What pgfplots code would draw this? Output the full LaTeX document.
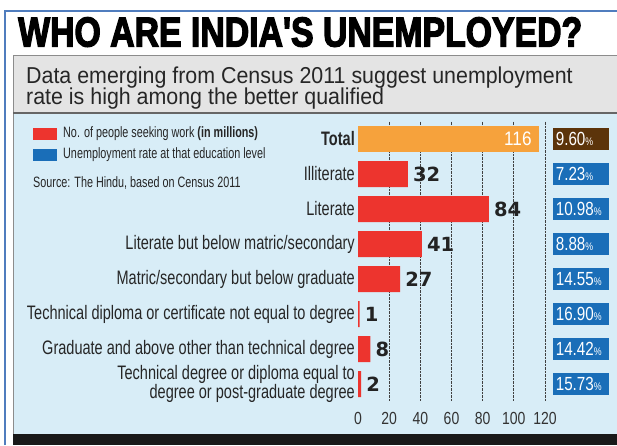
\documentclass[border=0pt]{standalone}
\usepackage{pgfplots}
\pgfplotsset{compat=1.18}
\usepackage{pgfplotstable}
\usepackage{fontspec}
\setmainfont{Liberation Sans}
\newfontfamily\cond[FakeStretch=0.745]{Liberation Sans}
\newfontfamily\legfam[FakeStretch=0.72]{Liberation Sans}
\newfontfamily\narrow[FakeStretch=0.8]{Liberation Sans}
\newfontfamily\subfont[FakeStretch=0.93]{Liberation Sans}
\newfontfamily\totfam[FakeStretch=0.88]{Liberation Sans}
\newfontfamily\valfam{DejaVu Sans}
\newfontface\titlefont[FakeBold=3.5]{Liberation Sans Bold}
\newcommand\labelfont{\cond\fontsize{19.5}{18}\selectfont}
\newcommand\legfont{\legfam\fontsize{15}{15}\selectfont}
\newcommand\tickfont{\narrow\fontsize{17.5}{18}\selectfont}
\newcommand\pctfont{\narrow\fontsize{19}{19}\selectfont}
\newcommand\valfont{\valfam\bfseries\fontsize{19.5}{19}\selectfont}

\definecolor{barred}{RGB}{237,52,46}
\definecolor{barorange}{RGB}{246,162,60}
\definecolor{pctblue}{RGB}{26,110,184}
\definecolor{pctbrown}{RGB}{92,52,10}
\definecolor{panelblue}{RGB}{216,237,247}
\definecolor{subgray}{RGB}{228,228,228}
\definecolor{frameblue}{RGB}{80,125,190}
\definecolor{valdark}{RGB}{35,35,35}

% people seeking work, millions
\pgfplotstableread{
y val
1 32
2 84
3 41
4 27
5 1
6 8
7 2
}\groups
\pgfplotstableread{
y val
0 116
}\total
% unemployment rate, percent
\pgfplotstableread{
y pct
1 7.23
2 10.98
3 8.88
4 14.55
5 16.90
6 14.42
7 15.73
}\rates
\pgfplotstableread{
y pct
0 9.60
}\totalrate

\begin{document}
\begin{tikzpicture}
\useasboundingbox (0pt,0pt) rectangle (617pt,-445pt);
\fill[white] (0pt,0pt) rectangle (617pt,-445pt);
\fill[subgray] (13pt,-55pt) rectangle (617pt,-113pt);
\fill[panelblue] (13pt,-113pt) rectangle (617pt,-434pt);
\draw[black!45, line width=1pt] (617pt,-55pt) -- (13pt,-55pt) -- (13pt,-434pt);
\draw[black!60, line width=1.5pt] (13pt,-113pt) -- (617pt,-113pt);
\fill[black!90] (13pt,-434pt) rectangle (617pt,-445pt);
\draw[frameblue, line width=1.5pt] (5pt,-445pt) -- (5pt,-11pt) -- (617pt,-11pt);

\node[anchor=south west, inner sep=0pt] at (18pt,-47pt)
  {\resizebox{564pt}{29pt}{\titlefont WHO ARE INDIA'S UNEMPLOYED?}};
\node[anchor=base west, inner sep=0pt, text=black!85] at (26pt,-83pt)
  {\subfont\fontsize{23}{22}\selectfont Data emerging from Census 2011 suggest unemployment};
\node[anchor=base west, inner sep=0pt, text=black!85] at (26pt,-104pt)
  {\subfont\fontsize{23}{22}\selectfont rate is high among the better qualified};

\fill[barred] (33pt,-128pt) rectangle (57pt,-140pt);
\fill[pctblue] (33pt,-149pt) rectangle (57pt,-161pt);
\node[anchor=west, inner sep=0pt, text=black!85] at (63pt,-134pt)
  {\legfont No. of people seeking work {\bfseries (in millions)}};
\node[anchor=west, inner sep=0pt, text=black!85] at (63pt,-155pt)
  {\legfont Unemployment rate at that education level};
\node[anchor=west, inner sep=0pt, text=black!85] at (33pt,-183pt)
  {\legfont Source: The Hindu, based on Census 2011};

\begin{axis}[
  at={(358pt,-121.5pt)}, anchor=north west,
  scale only axis, width=187pt, height=280pt,
  xmin=0, xmax=120, ymin=-0.5, ymax=7.5, y dir=reverse,
  clip=false,
  axis line style={draw=none},
  major tick length=0pt,
  xtick={20,40,...,120}, xticklabels={20,40,60,80,100,120},
  extra x ticks={0}, extra x tick labels={0}, extra x tick style={grid=none},
  xmajorgrids, major grid style={densely dotted, black!75, line width=0.8pt},
  xticklabel style={font=\tickfont, text=black!80, inner sep=0pt, yshift=-11pt},
  ytick={0,...,7},
  yticklabels={{\bfseries Total}, Illiterate, Literate,
    Literate but below matric/secondary,
    Matric/secondary but below graduate,
    Technical diploma or certificate not equal to degree,
    Graduate and above other than technical degree,
    {Technical degree or diploma equal to\\degree or post-graduate degree}},
  yticklabel style={font=\labelfont, align=right, inner sep=0pt, xshift=-3pt, text=black!85},
  /pgf/number format/assume math mode=true,
]
\addplot[xbar, bar width=26pt, bar shift=0pt, fill=barorange, draw=none,
  nodes near coords,
  nodes near coords style={anchor=east, text=white, inner sep=0pt, xshift=-7pt,
    font=\totfam\fontsize{19.5}{19}\selectfont}]
  table[x=val, y=y] {\total};
\addplot[xbar, bar width=26pt, bar shift=0pt, fill=barred, draw=none,
  nodes near coords,
  nodes near coords style={anchor=west, text=valdark, inner sep=0pt, xshift=5pt,
    font=\valfont}]
  table[x=val, y=y] {\groups};
\addplot[draw=none, mark=none, point meta=explicit symbolic,
  nodes near coords={\pgfplotspointmeta{\fontsize{11}{11}\selectfont\%}},
  nodes near coords style={anchor=center, fill=pctbrown, text=white, font=\pctfont,
    minimum height=22pt, text width=50pt, inner xsep=3pt, inner ysep=0pt, align=left}]
  table[x expr=143, y=y, meta=pct] {\totalrate};
\addplot[draw=none, mark=none, point meta=explicit symbolic,
  nodes near coords={\pgfplotspointmeta{\fontsize{11}{11}\selectfont\%}},
  nodes near coords style={anchor=center, fill=pctblue, text=white, font=\pctfont,
    minimum height=22pt, text width=50pt, inner xsep=3pt, inner ysep=0pt, align=left}]
  table[x expr=143, y=y, meta=pct] {\rates};
\end{axis}
\end{tikzpicture}
\end{document}
